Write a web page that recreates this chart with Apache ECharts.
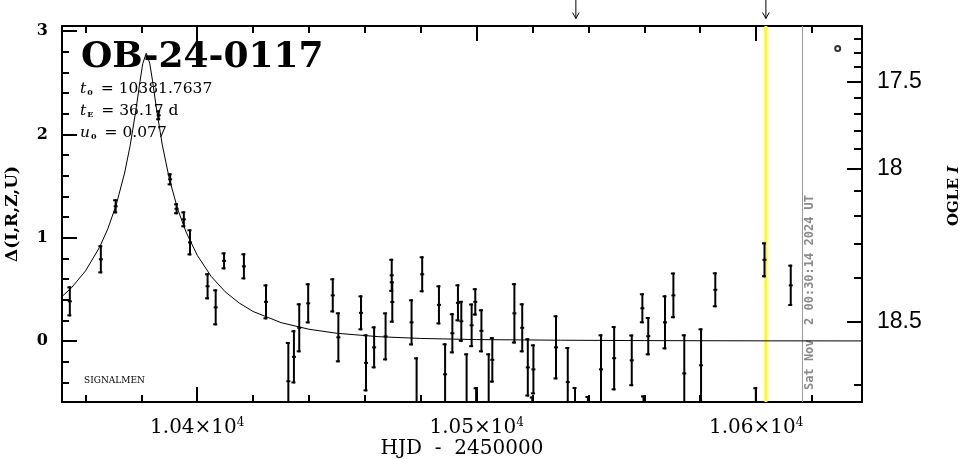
<!DOCTYPE html>
<html><head><meta charset="utf-8">
<script src="https://cdn.jsdelivr.net/npm/echarts@6/dist/echarts.min.js"></script>
<style>html,body{margin:0;padding:0;background:#fff}#c{width:965px;height:459px}</style>
</head><body><div id="c"></div>
<script>
// ---- data ----
const hjd = [10354.4,10365.5,10370.8,10386.2,10390.3,10392.6,10395.2,10397.4,10403.7,10406.6,10409.6,10416.7,10424.6,10432.6,10434.6,10436.5,10439.7,10448.5,10450.5,10458.6,10460.4,10463.3,10467.4,10469.6,10469.8,10476.7,10478.5,10480.5,10486.5,10488.7,10491.3,10493.3,10494.5,10496.4,10498.2,10499.5,10499.8,10501.7,10504.3,10505.6,10513.5,10516.3,10518.3,10519.9,10520.3,10528.4,10532.6,10535.2,10539.8,10544.5,10549.2,10555.5,10559.3,10559.7,10561.4,10567.4,10570.4,10574.3,10580.3,10585.4,10599.9,10603.0,10612.4];
const delta = [0.384,0.791,1.304,2.185,1.565,1.280,1.178,0.955,0.530,0.326,0.776,0.723,0.379,-0.389,-0.153,0.128,0.365,0.442,0.036,0.273,-0.211,-0.061,0.045,0.636,0.378,0.181,-0.700,0.646,0.350,-0.322,0.075,0.370,0.191,-0.700,0.152,0.379,-0.750,0.099,-0.700,-0.182,0.268,0.128,-0.255,-0.850,-0.274,-0.061,-0.397,-0.750,-0.800,-0.274,-0.166,-0.187,0.317,-0.800,0.047,0.181,0.442,-0.313,-0.235,0.496,-0.750,0.786,0.539];
const err = [0.145,0.136,0.068,0.048,0.058,0.053,0.077,0.126,0.126,0.174,0.082,0.126,0.169,0.380,0.257,0.237,0.194,0.165,0.242,0.169,0.276,0.203,0.232,0.160,0.200,0.223,0.542,0.174,0.189,0.300,0.194,0.179,0.198,0.581,0.211,0.132,0.303,0.208,0.581,0.220,0.292,0.237,0.282,0.313,0.242,0.310,0.339,0.305,0.268,0.339,0.311,0.250,0.145,0.274,0.185,0.261,0.221,0.378,0.358,0.169,0.303,0.169,0.200];

const modelT = [10351.6,10355,10360,10365,10368,10371,10374,10376,10378,10379.5,10380.5,10381.76,10383,10384,10385.5,10387.5,10390,10393,10396,10400,10405,10410,10415,10420,10430,10440,10450,10465,10480,10500,10530,10560,10600,10637.9];
const modelD = [0.431,0.516,0.678,0.905,1.086,1.318,1.626,1.893,2.227,2.512,2.685,2.786,2.689,2.518,2.232,1.897,1.571,1.277,1.055,0.830,0.625,0.477,0.368,0.286,0.178,0.114,0.075,0.042,0.025,0.014,0.008,0.004,0.002,0.001];

const xRange = [10351.6, 10637.9];
const yRange = [-0.59, 3.049];
const xMajor = [10400, 10500, 10600];
const xMajorText = ['1.04×10', '1.05×10', '1.06×10'];
const xMajorExp = ['4', '4', '4'];
const xMinor = [10360,10380,10420,10440,10460,10480,10520,10540,10560,10580,10620];
const yMajor = [0, 1, 2, 3];
const yMinor = [-0.4,-0.2,0.2,0.4,0.6,0.8,1.2,1.4,1.6,1.8,2.2,2.4,2.6,2.8];
const magMajorText = ['17.5', '18', '18.5'];
const magMajorPos = [2.508, 1.664, 0.190];
const magMinorPos = [2.923,2.790,2.651,2.358,2.201,2.034,1.857,1.452,1.216,0.942,0.613,-0.427];

const arrowT = [10535.5, 10603.5];
const yellowT = [10603.5];
const stampT = [10616.6];
const stampText = 'Sat Nov  2 00:30:14 2024 UT';
const markerPt = [[10629.2, 2.831]];

const titleText = 'OB-24-0117';
const paramLines = ['{i|t}{s|0}{n| = 10381.7637}', '{i|t}{s|E}{n| = 36.17 d}', '{i|u}{s|0}{n| = 0.077}'];
const creditText = 'SIGNALMEN';
const rightTitle = '{b|OGLE }{it|I}';

// ---- chart ----
const SERIF = '"DejaVu Serif", serif';
const chart = echarts.init(document.getElementById('c'), null, {renderer: 'canvas'});

function nearestIdx(arr, v) {
  let b = 0;
  for (let i = 1; i < arr.length; i++) if (Math.abs(arr[i] - v) < Math.abs(arr[b] - v)) b = i;
  return b;
}
const blk = {color: '#000', width: 2};
function xAx(pos, vals, len, withLine, withLabel) {
  const a = {
    type: 'value', position: pos, min: xRange[0], max: xRange[1],
    axisLine: {show: withLine, onZero: false, lineStyle: blk},
    axisTick: {show: true, inside: true, length: len, lineStyle: blk, customValues: vals},
    axisLabel: {show: false},
    splitLine: {show: false}
  };
  if (withLabel) {
    a.axisLabel = {
      show: true, customValues: vals, margin: 15,
      formatter: v => { const k = nearestIdx(xMajor, v); return '{m|' + xMajorText[k] + '}{e|' + xMajorExp[k] + '}'; },
      rich: {
        m: {fontFamily: SERIF, fontSize: 20, color: '#000', lineHeight: 22},
        e: {fontFamily: SERIF, fontSize: 12, color: '#000', verticalAlign: 'top', lineHeight: 22, padding: [0, 0, 8, 0]}
      }
    };
    a.name = 'HJD  -  2450000';
    a.nameLocation = 'middle';
    a.nameGap = 37;
    a.nameMoveOverlap = false;
    a.nameTextStyle = {fontFamily: SERIF, fontSize: 20, color: '#000', lineHeight: 20};
  }
  return a;
}
function yAx(pos, vals, len, withLine) {
  return {
    type: 'value', position: pos, min: yRange[0], max: yRange[1],
    axisLine: {show: withLine, onZero: false, lineStyle: blk},
    axisTick: {show: true, inside: true, length: len, lineStyle: blk, customValues: vals},
    axisLabel: {show: false},
    splitLine: {show: false}
  };
}

const yLeft = yAx('left', yMajor, 15, true);
yLeft.axisLabel = {show: true, customValues: yMajor, margin: 14, fontFamily: SERIF, fontWeight: 'bold', fontSize: 16, color: '#000'};
yLeft.name = 'Δ(I,R,Z,U)';
yLeft.nameLocation = 'middle';
yLeft.nameRotate = 90;
yLeft.nameGap = 41;
yLeft.nameMoveOverlap = false;
yLeft.nameTextStyle = {fontFamily: SERIF, fontWeight: 'bold', fontSize: 17, color: '#000'};

const yRight = yAx('right', magMajorPos, 15, true);
yRight.axisLabel = {
  show: true, customValues: magMajorPos, margin: 15,
  fontFamily: '"Liberation Sans", sans-serif', fontSize: 23, color: '#000',
  formatter: v => magMajorText[nearestIdx(magMajorPos, v)]
};

function renderErr(params, api) {
  const x = api.value(0), y = api.value(1), e = api.value(2);
  const cs = params.coordSys;
  const top = api.coord([x, y + e]);
  const bot = api.coord([x, y - e]);
  const mid = api.coord([x, y]);
  const y0 = cs.y, y1 = cs.y + cs.height;
  const yT = Math.max(y0, top[1]), yB = Math.min(y1, bot[1]);
  const st = {stroke: '#000', lineWidth: 2};
  const ch = [];
  if (yB > yT) ch.push({type: 'line', shape: {x1: mid[0], y1: yT, x2: mid[0], y2: yB}, style: st});
  if (top[1] >= y0 && top[1] <= y1) ch.push({type: 'line', shape: {x1: mid[0] - 2.5, y1: top[1] + 1, x2: mid[0] + 1.5, y2: top[1] + 1}, style: st});
  if (bot[1] >= y0 && bot[1] <= y1) ch.push({type: 'line', shape: {x1: mid[0] - 2.5, y1: bot[1] - 1, x2: mid[0] + 1.5, y2: bot[1] - 1}, style: st});
  if (mid[1] >= y0 && mid[1] <= y1) ch.push({type: 'rect', shape: {x: mid[0] - 2, y: mid[1] - 1, width: 4, height: 2}, style: {fill: '#000'}});
  return {type: 'group', children: ch};
}
function renderVLine(color, w) {
  return function (params, api) {
    const a = api.coord([api.value(0), yRange[0]]);
    const b = api.coord([api.value(0), yRange[1]]);
    return {type: 'line', shape: {x1: a[0], y1: a[1], x2: b[0], y2: b[1]}, style: {stroke: color, lineWidth: w}};
  };
}
function renderStamp(params, api) {
  const a = api.coord([api.value(0), yRange[0]]);
  const b = api.coord([api.value(0), yRange[1]]);
  return {type: 'group', children: [
    {type: 'line', shape: {x1: a[0], y1: a[1], x2: b[0], y2: b[1]}, style: {stroke: '#9a9a9a', lineWidth: 1}},
    {type: 'text', x: a[0] + 7, y: a[1] - 12, rotation: Math.PI / 2,
     style: {text: stampText, fill: '#8a8a8a', font: 'bold 12px "DejaVu Sans Mono", monospace', align: 'left', verticalAlign: 'middle'}}
  ]};
}
function renderArrow(params, api) {
  const p = api.coord([api.value(0), yRange[1]]);
  const x = p[0], y = p[1];
  return {type: 'group', children: [
    {type: 'line', shape: {x1: x, y1: y - 28, x2: x, y2: y - 7.5}, style: {stroke: '#000', lineWidth: 1}},
    {type: 'polyline', shape: {points: [[x - 3.3, y - 13.5], [x, y - 7.5], [x + 3.3, y - 13.5]]}, style: {stroke: '#000', lineWidth: 1, fill: null}}
  ]};
}

const option = {
  animation: false,
  backgroundColor: '#fff',
  grid: {left: 62, right: 103, top: 26, bottom: 57, containLabel: false, outerBoundsMode: 'none'},
  xAxis: [
    xAx('bottom', xMajor, 15, true, true),
    xAx('bottom', xMinor, 7, false, false),
    xAx('top', xMajor, 15, true, false),
    xAx('top', xMinor, 7, false, false)
  ],
  yAxis: [
    yLeft,
    yAx('left', yMinor, 7, false),
    yRight,
    yAx('right', magMinorPos, 8, false)
  ],
  series: [
    {type: 'custom', name: 'yellow', xAxisIndex: 0, yAxisIndex: 0, clip: false, z: 1,
     renderItem: renderVLine('#ffff00', 3), data: yellowT.map(t => [t])},
    {type: 'custom', name: 'stamp', xAxisIndex: 0, yAxisIndex: 0, clip: false, z: 1,
     renderItem: renderStamp, data: stampT.map(t => [t])},
    {type: 'line', name: 'model', xAxisIndex: 0, yAxisIndex: 0, showSymbol: false, symbol: 'none', clip: true, z: 2,
     lineStyle: {color: '#000', width: 1}, data: modelT.map((t, i) => [t, modelD[i]])},
    {type: 'custom', name: 'data', xAxisIndex: 0, yAxisIndex: 0, clip: false, z: 3,
     renderItem: renderErr, data: hjd.map((t, i) => [t, delta[i], err[i]])},
    {type: 'custom', name: 'arrows', xAxisIndex: 0, yAxisIndex: 0, clip: false, z: 3,
     renderItem: renderArrow, data: arrowT.map(t => [t])},
    {type: 'scatter', name: 'marker', xAxisIndex: 0, yAxisIndex: 0, symbol: 'circle', symbolSize: 5, z: 3,
     itemStyle: {color: '#fff', borderColor: '#000', borderWidth: 2}, data: markerPt}
  ],
  graphic: [
    {type: 'text', left: 81, top: 40, z: 10,
     style: {text: titleText, font: 'bold 36px "DejaVu Serif", serif', fill: '#000'}},
    {type: 'group', left: 80, top: 81, z: 10, children: paramLines.map((s, i) => ({
      type: 'text', x: 0, y: i * 22,
      style: {text: s, fontFamily: 'DejaVu Serif', fontSize: 15, fill: '#000',
        rich: {
          n: {fontFamily: 'DejaVu Serif', fontSize: 15.5, lineHeight: 17, verticalAlign: 'bottom'},
          i: {fontFamily: 'DejaVu Serif', fontStyle: 'italic', fontSize: 15.5, lineHeight: 17, verticalAlign: 'bottom'},
          s: {fontFamily: 'DejaVu Serif', fontSize: 8, fontWeight: 'bold', lineHeight: 17, verticalAlign: 'bottom', padding: [0, 3, 0, 1]}
        }}
    }))},
    {type: 'text', left: 84, top: 376, z: 10,
     style: {text: creditText, font: '9px "DejaVu Serif", serif', fill: '#000'}},
    {type: 'text', x: 954, y: 196, rotation: Math.PI / 2, z: 10,
     style: {text: rightTitle, align: 'center', verticalAlign: 'middle', fill: '#000',
       rich: {
         b: {fontFamily: 'DejaVu Serif', fontWeight: 'bold', fontSize: 15, color: '#000'},
         it: {fontFamily: 'DejaVu Serif', fontWeight: 'bold', fontStyle: 'italic', fontSize: 15, color: '#000'}
       }}}
  ]
};
chart.setOption(option);
</script>
</body></html>
